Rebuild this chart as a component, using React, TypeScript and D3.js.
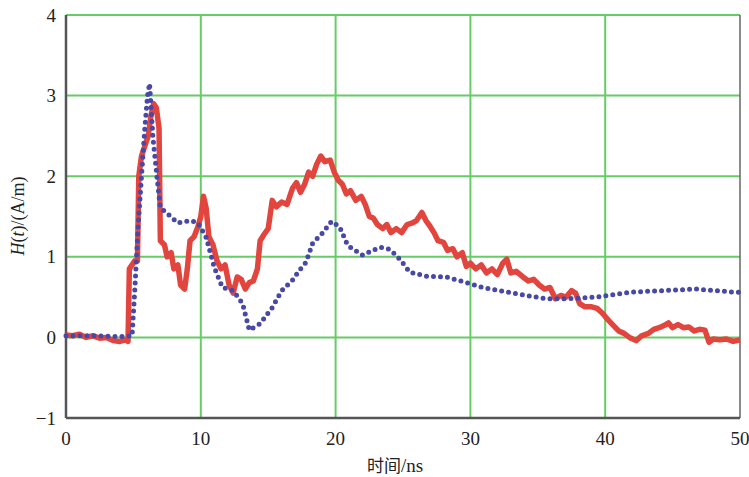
import React from "react";
import * as d3 from "d3";

const xTicks = [0, 10, 20, 30, 40, 50];
const yTicks = [-1, 0, 1, 2, 3, 4];
const yTickLabels = ["\u22121", "0", "1", "2", "3", "4"];

const redT = [0, 0.5, 1, 1.5, 2, 2.5, 3, 3.5, 4, 4.4, 4.6, 4.7, 4.9, 5.1, 5.3, 5.4, 5.6, 5.9, 6.1, 6.3, 6.5, 6.7, 6.9, 7.0, 7.3, 7.5, 7.8, 8.0, 8.3, 8.5, 8.8, 9.0, 9.2, 9.5, 9.8, 10.0, 10.2, 10.4, 10.6, 10.9, 11.2, 11.5, 11.8, 12.1, 12.4, 12.7, 13.0, 13.3, 13.6, 13.9, 14.2, 14.4, 14.7, 15.0, 15.3, 15.6, 16.0, 16.4, 16.8, 17.1, 17.4, 17.7, 18.0, 18.3, 18.6, 18.9, 19.2, 19.6, 19.9, 20.2, 20.5, 20.8, 21.1, 21.5, 21.9, 22.2, 22.5, 22.8, 23.1, 23.5, 23.8, 24.1, 24.5, 24.9, 25.3, 25.7, 26.0, 26.4, 26.7, 27.0, 27.3, 27.6, 28.0, 28.3, 28.7, 29.0, 29.4, 29.7, 30.0, 30.4, 30.8, 31.2, 31.6, 32.0, 32.4, 32.7, 33.0, 33.4, 33.9, 34.3, 34.7, 35.1, 35.5, 35.9, 36.3, 36.7, 37.1, 37.5, 37.8, 38.1, 38.5, 39.0, 39.4, 39.8, 40.2, 40.6, 41.0, 41.4, 41.8, 42.3, 42.7, 43.2, 43.6, 44.0, 44.4, 44.7, 45.0, 45.4, 45.8, 46.2, 46.6, 47.0, 47.4, 47.7, 48.0, 48.5, 49.0, 49.5, 50];
const redV = [0.03, 0.02, 0.04, 0.0, 0.02, -0.01, 0.0, -0.04, -0.05, -0.03, -0.05, 0.85, 0.9, 0.95, 0.95, 2.0, 2.25, 2.4, 2.5, 2.75, 2.9, 2.85, 2.6, 1.2, 1.15, 1.0, 1.05, 0.85, 0.9, 0.65, 0.6, 0.85, 1.2, 1.25, 1.38, 1.5, 1.75, 1.6, 1.25, 1.15, 0.95, 0.85, 0.9, 0.65, 0.55, 0.75, 0.72, 0.6, 0.68, 0.7, 0.85, 1.2, 1.28, 1.35, 1.7, 1.62, 1.68, 1.65, 1.85, 1.92, 1.8, 1.9, 2.05, 2.0, 2.15, 2.25, 2.18, 2.2, 2.05, 1.95, 1.9, 1.78, 1.82, 1.7, 1.75, 1.65, 1.5, 1.48, 1.4, 1.35, 1.4, 1.3, 1.35, 1.3, 1.4, 1.42, 1.45, 1.55, 1.45, 1.38, 1.3, 1.2, 1.18, 1.08, 1.1, 1.0, 1.05, 0.88, 0.92, 0.85, 0.9, 0.8, 0.85, 0.78, 0.92, 0.97, 0.8, 0.82, 0.75, 0.7, 0.72, 0.65, 0.6, 0.62, 0.48, 0.52, 0.5, 0.58, 0.55, 0.42, 0.38, 0.38, 0.36, 0.3, 0.22, 0.15, 0.08, 0.05, 0.0, -0.04, 0.02, 0.05, 0.1, 0.12, 0.15, 0.18, 0.12, 0.16, 0.12, 0.13, 0.08, 0.1, 0.09, -0.06, -0.02, -0.03, -0.02, -0.05, -0.03];

const blueT = [0, 2, 4, 4.9, 5.1, 5.35, 5.6, 5.85, 6.05, 6.2, 6.45, 6.8, 7.0, 7.5, 8.3, 9.2, 9.8, 10.4, 11, 11.6, 12.4, 13.1, 13.6, 14.4, 15.3, 16, 16.8, 17.3, 17.8, 18.3, 19, 19.7, 20.3, 20.9, 22, 23.3, 23.9, 24.5, 25, 25.5, 26.7, 28.2, 29.7, 30.9, 33.1, 35.6, 37.3, 39.3, 41.8, 44.2, 46.7, 49.7, 50];
const blueV = [0.02, 0.02, 0.01, 0.02, 0.58, 1.37, 2.0, 2.6, 3.0, 3.15, 2.48, 1.91, 1.61, 1.54, 1.42, 1.45, 1.42, 1.24, 0.87, 0.62, 0.58, 0.42, 0.09, 0.17, 0.37, 0.58, 0.71, 0.83, 0.93, 1.17, 1.29, 1.44, 1.37, 1.14, 1.02, 1.12, 1.1, 1.02, 0.92, 0.81, 0.76, 0.75, 0.68, 0.62, 0.55, 0.48, 0.48, 0.5, 0.56, 0.58, 0.6, 0.56, 0.56];

const W = 749;
const H = 477;
const L = 66, R = 740, T = 15, B = 418;

export default function App() {
  const x = d3.scaleLinear().domain([0, 50]).range([L, R]);
  const y = d3.scaleLinear().domain([-1, 4]).range([B, T]);
  const line = d3.line<[number, number]>().x((d) => x(d[0])).y((d) => y(d[1]));
  const redPts = redT.map((t, i) => [t, redV[i]] as [number, number]);
  const bluePts = blueT.map((t, i) => [t, blueV[i]] as [number, number]);
  const grid = "#66cc66";
  const serifStyle = { fontFamily: "'Liberation Serif', 'Times New Roman', 'DejaVu Serif', serif" };
  const cjkStyle = { fontFamily: "'Noto Sans CJK SC', sans-serif" };
  return (
    <svg width={W} height={H} style={{ position: "absolute", left: 0, top: 0, background: "#fff" }}>
      <rect x={0} y={0} width={W} height={H} fill="#fff" />
      {xTicks.slice(1, -1).map((t) => (
        <line key={"gx" + t} x1={x(t)} x2={x(t)} y1={T} y2={B} stroke={grid} strokeWidth={2} />
      ))}
      {yTicks.slice(1).map((t) => (
        <line key={"gy" + t} x1={L} x2={R} y1={y(t)} y2={y(t)} stroke={grid} strokeWidth={2} />
      ))}
      <line x1={R} x2={R} y1={T} y2={B} stroke="#666" strokeWidth={1.5} />
      <line x1={L} x2={L} y1={T} y2={B} stroke="#555" strokeWidth={2.5} />
      <line x1={L} x2={R} y1={B} y2={B} stroke="#555" strokeWidth={2.5} />
      <path d={line(redPts) || ""} fill="none" stroke="#e2453d" strokeWidth={5.5} strokeLinejoin="round" />
      <path d={line(bluePts) || ""} fill="none" stroke="#4848a8" strokeWidth={5} strokeDasharray="0 7" strokeLinecap="round" />
      {yTicks.map((t, i) => (
        <text key={"ty" + t} x={56} y={y(t)} dy="0.35em" textAnchor="end" style={serifStyle} fontSize={19} fill="#222">
          {yTickLabels[i]}
        </text>
      ))}
      {xTicks.map((t) => (
        <text key={"tx" + t} x={x(t)} y={445} textAnchor="middle" style={serifStyle} fontSize={19} fill="#222">
          {t}
        </text>
      ))}
      <text x={395} y={472} textAnchor="middle" style={cjkStyle} fontSize={17} fill="#222">
        时间<tspan style={serifStyle} fontSize={19}>/ns</tspan>
      </text>
      <text transform={`translate(24,${216}) rotate(-90)`} textAnchor="middle" style={serifStyle} fontSize={18} fill="#222">
        <tspan fontStyle="italic">H</tspan>(<tspan fontStyle="italic">t</tspan>)/(A/m)
      </text>
    </svg>
  );
}
